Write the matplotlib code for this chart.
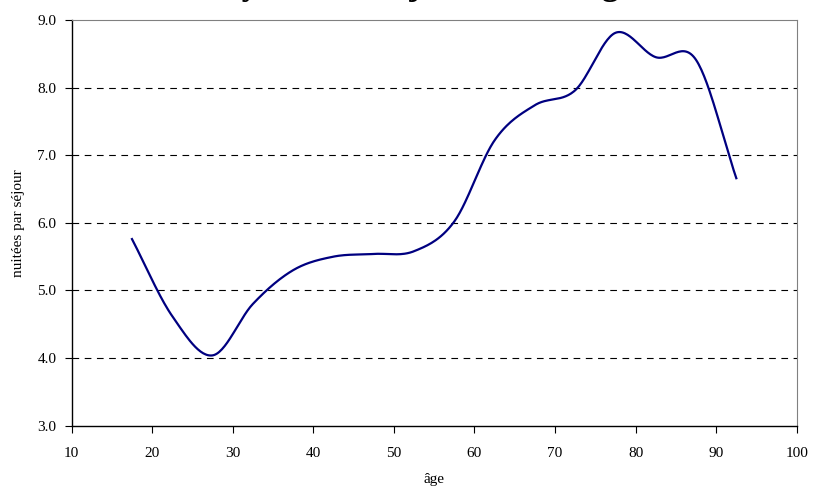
import numpy as np
import matplotlib
matplotlib.use("Agg")
import matplotlib.pyplot as plt

# données : nuitées moyennes par séjour selon l'âge (milieu des classes)
ages = [17.5, 22.5, 27.5, 32.5, 37.5, 42.5, 47.5, 52.5,
        57.5, 62.5, 67.5, 72.5, 77.5, 82.5, 87.5, 92.5]
nuitees = [5.76, 4.62, 4.04, 4.80, 5.30, 5.50, 5.54, 5.58,
           6.02, 7.22, 7.74, 7.96, 8.81, 8.45, 8.41, 6.66]

titre = "Durée moyenne de séjour selon l'âge"
x_ticks = list(range(10, 101, 10))
y_ticks = [3.0, 4.0, 5.0, 6.0, 7.0, 8.0, 9.0]


def lissage(x, y, n=30):
    # courbe lissée façon Excel (Catmull-Rom)
    x = np.asarray(x, float)
    y = np.asarray(y, float)
    px = np.concatenate([[2 * x[0] - x[1]], x, [2 * x[-1] - x[-2]]])
    py = np.concatenate([[2 * y[0] - y[1]], y, [2 * y[-1] - y[-2]]])
    xs, ys = [], []
    t = np.linspace(0, 1, n, endpoint=False)
    for i in range(1, len(px) - 2):
        for arr, out in ((px, xs), (py, ys)):
            p0, p1, p2, p3 = arr[i - 1], arr[i], arr[i + 1], arr[i + 2]
            out.extend(0.5 * (2 * p1 + (-p0 + p2) * t
                              + (2 * p0 - 5 * p1 + 4 * p2 - p3) * t ** 2
                              + (-p0 + 3 * p1 - 3 * p2 + p3) * t ** 3))
    xs.append(x[-1])
    ys.append(y[-1])
    return np.array(xs), np.array(ys)


plt.rcParams['font.family'] = ['Liberation Serif', 'DejaVu Serif']

fig = plt.figure(figsize=(8.13, 4.93), dpi=100)
ax = fig.add_axes([0.088, 0.1365, 0.892, 0.823])

xs, ys = lissage(ages, nuitees)
ax.plot(xs, ys, color='#000080', linewidth=1.6, zorder=3)

ax.set_xlim(10, 100)
ax.set_ylim(3.0, 9.0)
ax.set_xticks(x_ticks)
ax.set_yticks(y_ticks)
ax.set_yticklabels([f"{v:.1f}" for v in y_ticks])

for v in y_ticks[1:-1]:
    ax.axhline(v, color='black', linewidth=0.8, linestyle=(0, (6, 5)), zorder=1)

ax.spines['top'].set_color('#808080')
ax.spines['right'].set_color('#808080')
ax.spines['left'].set_linewidth(1.0)
ax.spines['bottom'].set_linewidth(1.0)

ax.tick_params(axis='x', direction='out', length=5, pad=10, labelsize=11)
ax.tick_params(axis='y', direction='out', length=5, pad=6, labelsize=11)

ax.set_xlabel("âge", fontsize=11, labelpad=10)
ax.set_ylabel("nuitées par séjour", fontsize=11, labelpad=9)

# titre coupé en haut comme dans l'original
fig.text(0.449, 1 + 6.5 / 493, titre, ha='center', va='baseline',
         fontsize=25, fontweight='bold')

fig.savefig("out.png", dpi=100)
